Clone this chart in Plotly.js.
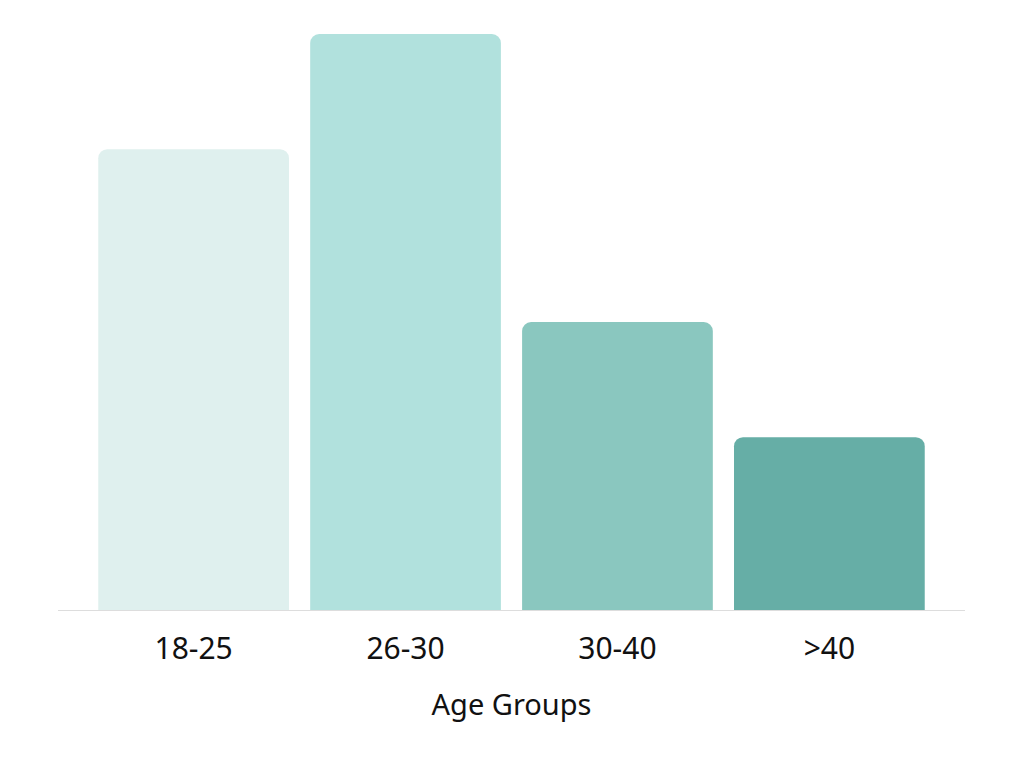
<!DOCTYPE html>
<html>
<head>
<meta charset="utf-8">
<script src="https://cdn.plot.ly/plotly-3.0.1.min.js"></script>
<style>html,body{margin:0;padding:0;background:#fff;}#chart{width:1024px;height:768px;}</style>
</head>
<body>
<div id="chart"></div>
<script>
const categories = ["18-25", "26-30", "30-40", ">40"];
const values = [40, 50, 25, 15];
const barColors = ["#DFF0EE", "#B1E1DD", "#8AC7BF", "#66AEA6"];
const xTitle = "Age Groups";

const trace = {
  type: "bar",
  x: categories,
  y: values,
  marker: { color: barColors, cornerradius: 9, line: { width: 0 } },
  hoverinfo: "skip"
};

const layout = {
  width: 1024,
  height: 768,
  margin: { l: 58, r: 59, t: 34, b: 158 },
  paper_bgcolor: "#ffffff",
  plot_bgcolor: "#ffffff",
  bargap: 0.1,
  showlegend: false,
  font: { family: "Noto Sans, sans-serif", color: "#111111" },
  xaxis: {
    type: "category",
    range: [-0.64, 3.64],
    showline: true,
    linecolor: "#dddddd",
    linewidth: 1,
    showgrid: false,
    zeroline: false,
    ticks: "",
    ticklabelstandoff: 12,
    tickfont: { size: 30, color: "#111111" },
    title: { text: xTitle, font: { size: 29, color: "#111111" }, standoff: 27 }
  },
  yaxis: {
    range: [0, 50],
    visible: false,
    showgrid: false,
    zeroline: false
  }
};

Plotly.newPlot("chart", [trace], layout, { displayModeBar: false, staticPlot: true });
</script>
</body>
</html>
